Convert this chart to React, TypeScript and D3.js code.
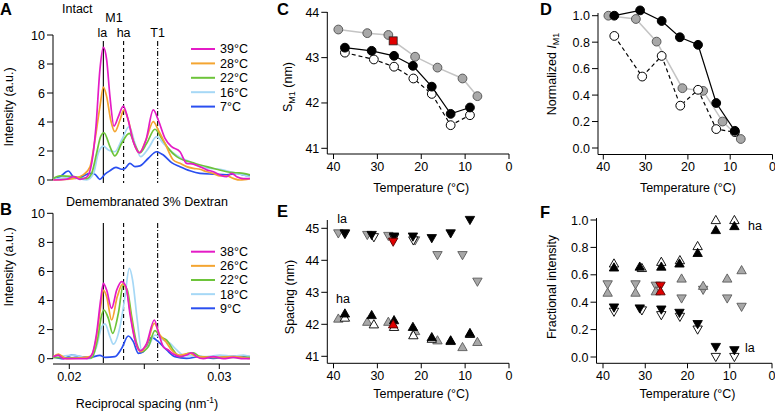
import React from 'react';
import * as d3 from 'd3';

const W = 775, H = 414;
const FONT = "'Liberation Sans', Arial, Helvetica, sans-serif";

// ---------- Panel A / B spectra: [reciprocal spacing (nm^-1), intensity (a.u.)] ----------
const specA39: [number, number][] = [
  [0.01893, 0], [0.01982, 0.05], [0.02027, 0.23], [0.02071, 0.05], [0.02116, 0.2], [0.02149, 1.15],
  [0.02178, 3.7], [0.02204, 7.6], [0.02227, 9.15], [0.02249, 8.3], [0.02271, 5.75], [0.02298, 3.72],
  [0.02327, 4.37], [0.0236, 5.1], [0.02387, 4.37], [0.02427, 2.64], [0.02467, 1.88], [0.02511, 2.76],
  [0.0256, 4.83], [0.02593, 4.14], [0.02638, 2.87], [0.02682, 2.3], [0.02738, 1.95], [0.02782, 1.15],
  [0.02827, 1.1], [0.02871, 0.92], [0.02916, 0.7], [0.0296, 0.57], [0.03004, 0.35], [0.03049, 0.23],
  [0.03082, 0.46], [0.03116, 0.23], [0.0316, 0.1], [0.03204, 0.1],
];
const specA28: [number, number][] = [
  [0.01893, 0], [0.02027, 0.1], [0.02093, 0.35], [0.02138, 0.9], [0.02171, 2.75], [0.02204, 5.05],
  [0.02227, 6.4], [0.02249, 5.75], [0.02276, 4.14], [0.02304, 3.33], [0.02338, 4.14], [0.02364, 4.83],
  [0.02393, 4.14], [0.02431, 2.53], [0.02467, 1.88], [0.02511, 2.76], [0.0256, 4.02], [0.02593, 3.45],
  [0.02638, 2.53], [0.02693, 1.38], [0.02738, 1.15], [0.02782, 0.92], [0.02827, 0.8], [0.02871, 0.74],
  [0.02916, 0.57], [0.0296, 0.46], [0.03004, 0.28], [0.03049, 0.28], [0.03093, 0.11], [0.03138, 0],
  [0.03204, 0.1],
];
const specA22: [number, number][] = [
  [0.01893, 0.1], [0.01938, 0.28], [0.02027, 0.23], [0.02116, 0.1], [0.02149, 0.46], [0.02182, 1.84],
  [0.02209, 3.0], [0.02231, 3.26], [0.02271, 2.3], [0.02304, 1.66], [0.02349, 2.53], [0.024, 3.22],
  [0.02438, 2.41], [0.02471, 1.88], [0.02516, 2.53], [0.02571, 3.5], [0.02616, 2.87], [0.0266, 2.18],
  [0.02716, 1.61], [0.0276, 1.38], [0.02804, 1.26], [0.02849, 1.1], [0.02916, 0.92], [0.02982, 0.74],
  [0.03049, 0.57], [0.03116, 0.5], [0.0316, 0.46], [0.03204, 0.35],
];
const specA16: [number, number][] = [
  [0.01893, 0.05], [0.02027, 0.18], [0.02116, 0], [0.0216, 0.4], [0.02193, 1.84], [0.02227, 2.34],
  [0.0226, 2.07], [0.02304, 1.95], [0.02349, 2.76], [0.024, 3.68], [0.02438, 2.53], [0.02476, 1.61],
  [0.02527, 2.18], [0.02582, 2.99], [0.02627, 2.53], [0.02682, 1.95], [0.02738, 1.56], [0.02804, 1.26],
  [0.02871, 0.92], [0.02938, 0.8], [0.03004, 0.74], [0.03071, 0.57], [0.03138, 0.4], [0.03204, 0.23],
];
const specA7: [number, number][] = [
  [0.01893, 0.05], [0.01938, 0.23], [0.01993, 0.62], [0.02038, 0.11], [0.02082, 0.23], [0.02138, 0.46],
  [0.02171, 0.4], [0.02204, 0.05], [0.02238, 0.4], [0.02271, 0.64], [0.02311, 0.87], [0.02349, 0.74],
  [0.02371, 0.8], [0.02404, 1.15], [0.02438, 0.92], [0.02471, 0.97], [0.02527, 1.5], [0.02582, 1.95],
  [0.02627, 1.72], [0.02682, 1.2], [0.02738, 0.92], [0.02804, 0.64], [0.02871, 0.46], [0.0296, 0.4],
  [0.03049, 0.35], [0.03116, 0.46], [0.0316, 0.35], [0.03204, 0.28],
];
const specB38: [number, number][] = [
  [0.01893, 0.14], [0.01927, 0.25], [0.0196, 0], [0.02027, 0], [0.02116, 0], [0.02149, 0.25],
  [0.02182, 1.74], [0.02209, 4.04], [0.02227, 5.18], [0.02249, 4.72], [0.02282, 3.46], [0.02316, 4.72],
  [0.02349, 5.3], [0.02378, 4.95], [0.02404, 3.12], [0.02438, 1.28], [0.02471, 0.55], [0.02516, 1.06],
  [0.02567, 2.66], [0.02593, 1.86], [0.02627, 0.83], [0.0266, 0.6], [0.02693, 0.32], [0.02738, 0.14],
  [0.02782, 0.25], [0.02816, 0.41], [0.02849, 0.14], [0.02893, 0], [0.0296, 0.14], [0.03027, 0],
  [0.03093, 0.09], [0.0316, 0], [0.03204, 0],
];
const specB26: [number, number][] = [
  [0.01893, 0.14], [0.01927, 0.32], [0.01982, 0], [0.02138, 0.14], [0.02182, 1.51], [0.02209, 3.58],
  [0.02227, 4.72], [0.02249, 4.27], [0.02282, 2.66], [0.0232, 4.27], [0.02356, 5.14], [0.02382, 4.72],
  [0.02409, 3.0], [0.02438, 1.28], [0.02476, 0.48], [0.0252, 1.06], [0.02567, 2.43], [0.02604, 1.63],
  [0.02644, 1.17], [0.02682, 0.6], [0.02738, 0.25], [0.02804, 0.37], [0.02849, 0.14], [0.0296, 0.09],
  [0.03093, 0.14], [0.03204, 0],
];
const specB22: [number, number][] = [
  [0.01893, 0.09], [0.02027, 0.05], [0.02149, 0.05], [0.02187, 1.28], [0.02216, 3.0], [0.02231, 3.35],
  [0.0226, 2.78], [0.02289, 1.74], [0.02327, 3.12], [0.0236, 5.07], [0.02387, 4.72], [0.02416, 2.89],
  [0.02449, 1.06], [0.02482, 0.48], [0.02527, 0.83], [0.02571, 1.93], [0.02609, 1.51], [0.02649, 1.28],
  [0.02693, 0.6], [0.02738, 0.14], [0.02793, 0.37], [0.02827, 0.41], [0.02871, 0.14], [0.02982, 0.09],
  [0.03204, 0.09],
];
const specB18: [number, number][] = [
  [0.01893, 0.05], [0.02027, 0.25], [0.02138, 0], [0.02182, 0.83], [0.02216, 2.2], [0.02238, 2.39],
  [0.02271, 1.51], [0.02293, 1.0], [0.02338, 2.2], [0.02371, 4.27], [0.024, 6.22], [0.02422, 5.41],
  [0.02453, 2.66], [0.02482, 0.6], [0.02527, 0.83], [0.02571, 1.63], [0.02627, 1.28], [0.02671, 1.06],
  [0.02716, 0.6], [0.0276, 0.25], [0.02827, 0.18], [0.02916, 0.14], [0.03004, 0.25], [0.03093, 0.18],
  [0.0316, 0.25], [0.03204, 0.14],
];
const specB9: [number, number][] = [
  [0.01893, 0.14], [0.0196, 0], [0.02016, 0.25], [0.02071, 0.14], [0.02138, 0.09], [0.02204, 0.23],
  [0.02238, 0.09], [0.02304, 0.14], [0.02349, 0.71], [0.02393, 1.56], [0.02427, 1.17], [0.0246, 0.37],
  [0.02493, 0.48], [0.02549, 1.47], [0.02593, 1.17], [0.02649, 0.6], [0.02704, 0.14], [0.02782, 0.02],
  [0.02871, 0.14], [0.0296, 0.02], [0.03049, 0.14], [0.03138, 0.18], [0.03204, 0.14],
];
const legendA = ['39°C', '28°C', '22°C', '16°C', '7°C'];
const legendB = ['38°C', '26°C', '22°C', '18°C', '9°C'];
const specColors = ['#e41bc6', '#f4a531', '#6dc43a', '#a6d8f6', '#2a4ff0'];
const reflectionNames = ['la', 'ha', 'T1'];
const reflectionQ = [0.02227, 0.02362, 0.02589];
const intensityTicks = [0, 2, 4, 6, 8, 10];
const qTicks = [0.02, 0.025, 0.03];
const qTickLabels = ['0.02', '', '0.03'];

// ---------- Panels C–F ----------
const tempTicks = [40, 30, 20, 10, 0];
const tempBlack = [37.4, 31.3, 26.2, 21.9, 17.6, 13.3, 8.9];
const tempOpen = [37.4, 30.8, 26.2, 21.8, 17.6, 13.3, 8.9];
const tempGray = [38.9, 32.3, 27.5, 26.4, 21.4, 16.3, 10.6, 7.2]; // index 3 shown in red
const redIndex = 3;
const tempGrayD = [38.8, 32.3, 27.4, 21.3, 16.4, 11.8, 7.5];

// C: S_M1 (nm)
const smBlack = [43.22, 43.15, 43.04, 42.82, 42.36, 41.76, 41.9];
const smOpen = [43.11, 42.96, 42.8, 42.54, 42.2, 41.51, 41.73];
const smGray = [43.62, 43.54, 43.5, 43.37, 43.02, 42.78, 42.54, 42.15];
const smTicks = [41, 42, 43, 44];

// D: normalized I_M1
const imBlack = [1.0, 1.04, 0.96, 0.837, 0.78, 0.34, 0.13];
const imOpen = [0.847, 0.54, 0.696, 0.32, 0.44, 0.143, 0.12];
const imGray = [1.0, 0.975, 0.804, 0.452, 0.432, 0.2, 0.068];
const fracTicks = [0, 0.2, 0.4, 0.6, 0.8, 1.0];

// E: spacing (nm)
const laBlack = [44.84, 44.79, 44.74, 44.74, 44.69, 44.84, 45.26];
const laOpen = [44.82, 44.72, 44.7, 44.62];
const laGray = [44.84, 44.79, 44.76, 44.58, 44.62, 44.16, 44.16, 43.33];
const haBlack = [42.34, 42.29, 42.13, 41.92, 41.6, 41.5, 41.73];
const haOpen = [42.21, 42.0, 41.92, 41.66, 41.55, 41.48, 41.7];
const haGray = [42.18, 42.08, 42.08, 42.0, 41.79, 41.5, 41.29, 41.45];
const spacingTicks = [41, 42, 43, 44, 45];

// F: fractional intensity
const fHaBlack = [0.654, 0.66, 0.66, 0.683, 0.76, 0.927, 0.956];
const fLaBlack = [0.361, 0.354, 0.346, 0.322, 0.24, 0.073, 0.049];
const fHaOpen = [0.683, 0.65, 0.695, 0.707, 0.81, 1.0, 1.0];
const fLaOpen = [0.33, 0.34, 0.305, 0.293, 0.2, 0.0, 0.0];
const fHaGray = [0.47, 0.47, 0.48, 0.48, 0.573, 0.52, 0.573, 0.634];
const fLaGray = [0.53, 0.53, 0.52, 0.52, 0.427, 0.49, 0.427, 0.366];

// ---------- scales ----------
const xAB = d3.scaleLinear().domain([0.02, 0.03]).range([69.3, 219.3]);
const yA = d3.scaleLinear().domain([0, 10]).range([180, 35]);
const yB = d3.scaleLinear().domain([0, 10]).range([358.7, 213.3]);
const xC = d3.scaleLinear().domain([40, 0]).range([333.5, 509]);
const yC = d3.scaleLinear().domain([41, 44]).range([148.3, 12.3]);
const xD = d3.scaleLinear().domain([40, 0]).range([603.3, 772.5]);
const yD = d3.scaleLinear().domain([0, 1]).range([148, 15.7]);
const xE = d3.scaleLinear().domain([40, 0]).range([333.5, 509]);
const yE = d3.scaleLinear().domain([41, 45]).range([356.3, 228.3]);
const xF = d3.scaleLinear().domain([40, 0]).range([603, 772]);
const yF = d3.scaleLinear().domain([0, 1]).range([357, 220]);

const FS = 12.5;
const GRAY = '#a8a8a8';
const GRAY_STROKE = '#5a5a5a';
const RED = '#e00000';

function triPath(x: number, y: number, up: boolean) {
  const w = 4.7;
  return up
    ? `M${x - w},${y + 3.6}L${x + w},${y + 3.6}L${x},${y - 4.6}Z`
    : `M${x - w},${y - 3.6}L${x + w},${y - 3.6}L${x},${y + 4.6}Z`;
}

type Lin = d3.ScaleLinear<number, number>;

function Spectra({ y, data, legend, legendY, legendStep }: { y: Lin; data: [number, number][][]; legend: string[]; legendY: number; legendStep: number }) {
  const line = d3.line<[number, number]>().x(d => xAB(d[0])).y(d => y(d[1])).curve(d3.curveMonotoneX);
  const order = [4, 3, 2, 1, 0];
  return (
    <g>
      {order.map(i => (
        <path key={i} d={line(data[i]) || ''} fill="none" stroke={specColors[i]} strokeWidth={1.7} strokeLinejoin="round" />
      ))}
      {legend.map((t, i) => (
        <g key={t}>
          <line x1={191} x2={215} y1={legendY + i * legendStep} y2={legendY + i * legendStep} stroke={specColors[i]} strokeWidth={2} />
          <text x={220} y={legendY + i * legendStep} dy="0.35em" fontSize={FS}>{t}</text>
        </g>
      ))}
    </g>
  );
}

function RefLines({ top, bottom }: { top: number; bottom: number }) {
  const dashes = ['none', '4,3', '5,2,1,2'];
  return (
    <g>
      {reflectionQ.map((q, i) => (
        <line key={i} x1={xAB(q)} x2={xAB(q)} y1={top} y2={bottom} stroke="#000" strokeWidth={1.1} strokeDasharray={dashes[i]} />
      ))}
    </g>
  );
}

function YAxis({ y, x, ticks, top, bottom, fmt }: { y: Lin; x: number; ticks: number[]; top: number; bottom: number; fmt: (v: number) => string }) {
  return (
    <g>
      <line x1={x} x2={x} y1={top} y2={bottom} stroke="#000" strokeWidth={1} />
      {ticks.map(t => (
        <g key={t}>
          <line x1={x - 6} x2={x} y1={y(t)} y2={y(t)} stroke="#000" strokeWidth={1} />
          <text x={x - 8} y={y(t)} dy="0.36em" textAnchor="end" fontSize={FS}>{fmt(t)}</text>
        </g>
      ))}
    </g>
  );
}

function XAxis({ x, yPos, left, right, ticks, labels }: { x: Lin; yPos: number; left: number; right: number; ticks: number[]; labels: string[] }) {
  return (
    <g>
      <line x1={left} x2={right} y1={yPos} y2={yPos} stroke="#000" strokeWidth={1} />
      {ticks.map((t, i) => (
        <g key={t}>
          <line x1={x(t)} x2={x(t)} y1={yPos} y2={yPos + 5} stroke="#000" strokeWidth={1} />
          <text x={x(t)} y={yPos + 16.5} textAnchor="middle" fontSize={FS}>{labels[i]}</text>
        </g>
      ))}
    </g>
  );
}

function CircleSeries({ x, y, temps, vals, fill, stroke, lineColor, dash, redIdx }: { x: Lin; y: Lin; temps: number[]; vals: number[]; fill: string; stroke: string; lineColor: string; dash?: string; redIdx?: number }) {
  const pts: [number, number][] = temps.map((t, i) => [t, vals[i]]);
  const line = d3.line<[number, number]>().x(d => x(d[0])).y(d => y(d[1]));
  return (
    <g>
      <path d={line(pts) || ''} fill="none" stroke={lineColor} strokeWidth={lineColor === '#000' ? 1.2 : 1.5} strokeDasharray={dash} />
      {pts.map((d, i) =>
        i === redIdx ? (
          <rect key={i} x={x(d[0]) - 4} y={y(d[1]) - 4} width={8} height={8} fill={RED} stroke="#222" strokeWidth={0.8} />
        ) : (
          <circle key={i} cx={x(d[0])} cy={y(d[1])} r={4.4} fill={fill} stroke={stroke} strokeWidth={1} />
        )
      )}
    </g>
  );
}

function TriSeries({ x, y, temps, vals, up, fill, stroke, redIdx }: { x: Lin; y: Lin; temps: number[]; vals: number[]; up: boolean; fill: string; stroke: string; redIdx?: number }) {
  return (
    <g>
      {vals.map((v, i) => (
        <path key={i} d={triPath(x(temps[i]), y(v), up)} fill={i === redIdx ? RED : fill} stroke={i === redIdx ? '#500' : stroke} strokeWidth={0.9} />
      ))}
    </g>
  );
}

function RedTri({ x, y, t, v, up }: { x: Lin; y: Lin; t: number; v: number; up: boolean }) {
  return <path d={triPath(x(t), y(v), up)} fill={RED} stroke="#500" strokeWidth={0.9} />;
}

function VLabel({ x, y, children }: { x: number; y: number; children: React.ReactNode }) {
  return (
    <text transform={`translate(${x},${y}) rotate(-90)`} textAnchor="middle" fontSize={FS}>{children}</text>
  );
}

function PanelLetter({ x, y, t }: { x: number; y: number; t: string }) {
  return <text x={x} y={y} fontSize={16.5} fontWeight="bold">{t}</text>;
}

export default function App() {
  const fmtInt = (v: number) => String(v);
  const fmt1 = d3.format('.1f');
  const grayNoRed = (arr: number[]) => arr.filter((_, i) => i !== redIndex);
  const tempGrayNoRed = grayNoRed(tempGray);
  return (
    <svg width={W} height={H} style={{ position: 'absolute', left: 0, top: 0, background: '#fff' }} fontFamily={FONT}>
      <rect width={W} height={H} fill="#fff" />
      {/* ===== Panel A ===== */}
      <PanelLetter x={0} y={14.5} t="A" />
      <text x={62} y={12.7} fontSize={FS}>Intact</text>
      <text x={114} y={21.7} textAnchor="middle" fontSize={FS}>M1</text>
      {reflectionNames.map((n, i) => (
        <text key={n} x={xAB(reflectionQ[i]) - (i === 0 ? 1 : 0)} y={37} textAnchor="middle" fontSize={FS}>{n}</text>
      ))}
      <RefLines top={41} bottom={183} />
      <YAxis y={yA} x={53} ticks={intensityTicks} top={35} bottom={180} fmt={fmtInt} />
      <Spectra y={yA} data={[specA39, specA28, specA22, specA16, specA7]} legend={legendA} legendY={49} legendStep={14.4} />
      <VLabel x={13} y={107}>Intensity (a.u.)</VLabel>

      {/* ===== Panel B ===== */}
      <PanelLetter x={0} y={215} t="B" />
      <text x={147} y={206} textAnchor="middle" fontSize={FS}>Demembranated 3% Dextran</text>
      <RefLines top={223} bottom={363} />
      <YAxis y={yB} x={53} ticks={intensityTicks} top={213.3} bottom={358.7} fmt={fmtInt} />
      <XAxis x={xAB} yPos={364} left={53} right={250} ticks={qTicks} labels={qTickLabels} />
      <Spectra y={yB} data={[specB38, specB26, specB22, specB18, specB9]} legend={legendB} legendY={251.7} legendStep={14.15} />
      <VLabel x={13} y={267}>Intensity (a.u.)</VLabel>
      <text x={147} y={408} textAnchor="middle" fontSize={FS}>
        Reciprocal spacing (nm<tspan fontSize={8.5} dy={-5}>-1</tspan><tspan dy={5}>)</tspan>
      </text>

      {/* ===== Panel C ===== */}
      <PanelLetter x={277} y={15} t="C" />
      <YAxis y={yC} x={327.3} ticks={smTicks} top={12} bottom={154} fmt={fmtInt} />
      <XAxis x={xC} yPos={154} left={327.3} right={509} ticks={tempTicks} labels={tempTicks.map(String)} />
      <CircleSeries x={xC} y={yC} temps={tempGray} vals={smGray} fill={GRAY} stroke={GRAY_STROKE} lineColor="#c4c4c4" redIdx={redIndex} />
      <CircleSeries x={xC} y={yC} temps={tempOpen} vals={smOpen} fill="#fff" stroke="#000" lineColor="#000" dash="4,3" />
      <CircleSeries x={xC} y={yC} temps={tempBlack} vals={smBlack} fill="#000" stroke="#000" lineColor="#000" />
      <VLabel x={292} y={87}>
        S<tspan fontSize={9} dy={3}>M1</tspan><tspan dy={-3}> (nm)</tspan>
      </VLabel>
      <text x={xC(20)} y={192} textAnchor="middle" fontSize={FS}>Temperature (°C)</text>

      {/* ===== Panel D ===== */}
      <PanelLetter x={540} y={15} t="D" />
      <YAxis y={yD} x={598} ticks={fracTicks} top={13} bottom={154.5} fmt={fmt1} />
      <XAxis x={xD} yPos={154.5} left={598} right={772.5} ticks={tempTicks} labels={tempTicks.map(String)} />
      <CircleSeries x={xD} y={yD} temps={tempGrayD} vals={imGray} fill={GRAY} stroke={GRAY_STROKE} lineColor="#c4c4c4" />
      <CircleSeries x={xD} y={yD} temps={tempOpen} vals={imOpen} fill="#fff" stroke="#000" lineColor="#000" dash="4,3" />
      <CircleSeries x={xD} y={yD} temps={tempBlack} vals={imBlack} fill="#000" stroke="#000" lineColor="#000" />
      <VLabel x={556} y={74}>
        Normalized <tspan fontStyle="italic">I</tspan><tspan fontSize={9} dy={3}>M1</tspan>
      </VLabel>
      <text x={xD(20)} y={192} textAnchor="middle" fontSize={FS}>Temperature (°C)</text>

      {/* ===== Panel E ===== */}
      <PanelLetter x={277} y={217} t="E" />
      <YAxis y={yE} x={327.3} ticks={spacingTicks} top={220} bottom={363.3} fmt={fmtInt} />
      <XAxis x={xE} yPos={363.3} left={327.3} right={509} ticks={tempTicks} labels={tempTicks.map(String)} />
      <TriSeries x={xE} y={yE} temps={tempGrayNoRed} vals={grayNoRed(laGray)} up={false} fill={GRAY} stroke={GRAY_STROKE} />
      <TriSeries x={xE} y={yE} temps={tempGrayNoRed} vals={grayNoRed(haGray)} up={true} fill={GRAY} stroke={GRAY_STROKE} />
      <TriSeries x={xE} y={yE} temps={tempOpen} vals={laOpen} up={false} fill="#fff" stroke="#000" />
      <TriSeries x={xE} y={yE} temps={tempOpen} vals={haOpen} up={true} fill="#fff" stroke="#000" />
      <TriSeries x={xE} y={yE} temps={tempBlack} vals={laBlack} up={false} fill="#000" stroke="#000" />
      <TriSeries x={xE} y={yE} temps={tempBlack} vals={haBlack} up={true} fill="#000" stroke="#000" />
      <RedTri x={xE} y={yE} t={tempGray[redIndex]} v={laGray[redIndex]} up={false} />
      <RedTri x={xE} y={yE} t={tempGray[redIndex]} v={haGray[redIndex]} up={true} />
      <text x={342} y={223} textAnchor="middle" fontSize={FS}>la</text>
      <text x={343} y={303} textAnchor="middle" fontSize={FS}>ha</text>
      <VLabel x={294} y={297}>Spacing (nm)</VLabel>
      <text x={xE(20)} y={398} textAnchor="middle" fontSize={FS}>Temperature (°C)</text>

      {/* ===== Panel F ===== */}
      <PanelLetter x={540} y={218} t="F" />
      <YAxis y={yF} x={596.5} ticks={fracTicks} top={218} bottom={363.3} fmt={fmt1} />
      <XAxis x={xF} yPos={363.3} left={596.5} right={772} ticks={tempTicks} labels={tempTicks.map(String)} />
      <TriSeries x={xF} y={yF} temps={tempGrayNoRed} vals={grayNoRed(fLaGray)} up={false} fill={GRAY} stroke={GRAY_STROKE} />
      <TriSeries x={xF} y={yF} temps={tempGrayNoRed} vals={grayNoRed(fHaGray)} up={true} fill={GRAY} stroke={GRAY_STROKE} />
      <TriSeries x={xF} y={yF} temps={tempOpen} vals={fLaOpen} up={false} fill="#fff" stroke="#000" />
      <TriSeries x={xF} y={yF} temps={tempOpen} vals={fHaOpen} up={true} fill="#fff" stroke="#000" />
      <TriSeries x={xF} y={yF} temps={tempBlack} vals={fLaBlack} up={false} fill="#000" stroke="#000" />
      <TriSeries x={xF} y={yF} temps={tempBlack} vals={fHaBlack} up={true} fill="#000" stroke="#000" />
      <RedTri x={xF} y={yF} t={tempGray[redIndex]} v={fLaGray[redIndex]} up={false} />
      <RedTri x={xF} y={yF} t={tempGray[redIndex]} v={fHaGray[redIndex]} up={true} />
      <text x={748} y={230} fontSize={FS}>ha</text>
      <text x={745} y={352} fontSize={FS}>la</text>
      <VLabel x={556} y={287}>Fractional intensity</VLabel>
      <text x={xF(20)} y={398} textAnchor="middle" fontSize={FS}>Temperature (°C)</text>
    </svg>
  );
}
